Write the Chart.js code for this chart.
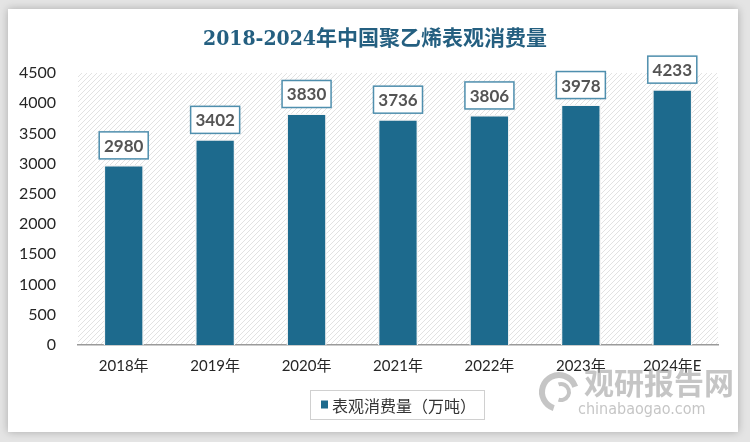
<!DOCTYPE html>
<html>
<head>
<meta charset="utf-8">
<script src="https://cdn.jsdelivr.net/npm/chart.js@4.4.1/dist/chart.umd.min.js"></script>
<style>
  html, body { margin: 0; padding: 0; background: #e4e4e4; }
  #wrap { position: relative; width: 750px; height: 442px; }
</style>
</head>
<body>
<div id="wrap"><canvas id="chart" width="750" height="442"></canvas></div>
<script>
// Chart data
const categories = ['2018年', '2019年', '2020年', '2021年', '2022年', '2023年', '2024年E'];
const consumption = [2980, 3402, 3830, 3736, 3806, 3978, 4233];
const yTicks = [0, 500, 1000, 1500, 2000, 2500, 3000, 3500, 4000, 4500];
const seriesName = '表观消费量（万吨）';
const titleText = '2018-2024年中国聚乙烯表观消费量';

const barColor = '#1d6a8d';
const cjk = "'Noto Sans CJK SC', sans-serif";

// Diagonal hatch pattern for the plot background
function makeHatch() {
    const c = document.createElement('canvas');
    c.width = 5; c.height = 5;
    const g = c.getContext('2d');
    g.fillStyle = '#ffffff';
    g.fillRect(0, 0, 5, 5);
    g.strokeStyle = '#e2e2e2';
    g.lineWidth = 1;
    g.beginPath();
    g.moveTo(0, 5); g.lineTo(5, 0);
    g.moveTo(-2.5, 2.5); g.lineTo(2.5, -2.5);
    g.moveTo(2.5, 7.5); g.lineTo(7.5, 2.5);
    g.stroke();
    return g.createPattern(c, 'repeat');
}

// Panel, hatched plot area, title
const backgroundPlugin = {
    id: 'background',
    beforeDraw(chart) {
        const ctx = chart.ctx;
        const a = chart.chartArea;
        ctx.save();
        ctx.fillStyle = '#e4e4e4';
        ctx.fillRect(0, 0, chart.width, chart.height);
        ctx.shadowColor = 'rgba(0,0,0,0.25)';
        ctx.shadowBlur = 8;
        ctx.fillStyle = '#ffffff';
        ctx.fillRect(8, 9, 730, 423);
        ctx.shadowColor = 'transparent';
        ctx.fillStyle = makeHatch();
        ctx.fillRect(a.left, a.top, a.right - a.left, a.bottom - a.top);
        // title
        ctx.fillStyle = '#245f80';
        ctx.font = "bold 21px 'DejaVu Serif Condensed', 'DejaVu Serif', 'Noto Sans CJK SC'";
        ctx.textAlign = 'center';
        ctx.textBaseline = 'middle';
        ctx.fillText(titleText, 375, 40);
        ctx.restore();
    }
};

// Value boxes above bars, legend box, watermark
const overlayPlugin = {
    id: 'overlay',
    afterDatasetsDraw(chart) {
        const ctx = chart.ctx;
        const meta = chart.getDatasetMeta(0);
        ctx.save();
        ctx.font = "bold 17px Lato, 'Open Sans', sans-serif";
        ctx.textAlign = 'center';
        ctx.textBaseline = 'middle';
        meta.data.forEach((bar, i) => {
            const w = 49, h = 27;
            const x = bar.x - w / 2;
            const y = bar.y - 6 - h;
            ctx.fillStyle = '#ffffff';
            ctx.shadowColor = 'rgba(0,0,0,0.15)';
            ctx.shadowBlur = 3;
            ctx.fillRect(x, y, w, h);
            ctx.shadowColor = 'transparent';
            ctx.strokeStyle = '#4f8fae';
            ctx.lineWidth = 1.5;
            ctx.strokeRect(x, y, w, h);
            ctx.fillStyle = '#545454';
            ctx.fillText(String(chart.data.datasets[0].data[i]), bar.x, y + h / 2 + 1);
        });
        ctx.restore();
    },
    afterDraw(chart) {
        const ctx = chart.ctx;
        const a = chart.chartArea;
        ctx.save();
        // watermark
        ctx.fillStyle = 'rgba(150,150,150,0.55)';
        ctx.font = "bold 30px " + cjk;
        ctx.textAlign = 'left';
        ctx.textBaseline = 'middle';
        ctx.fillText('观研报告网', 584, a.bottom + 38);
        ctx.font = "16px 'DejaVu Sans Condensed', 'DejaVu Sans', sans-serif";
        ctx.fillText('chinabaogao.com', 578, a.bottom + 65);
        ctx.strokeStyle = 'rgba(150,150,150,0.55)';
        ctx.lineWidth = 6;
        ctx.beginPath();
        ctx.arc(559, a.bottom + 47, 17, Math.PI * 0.6, Math.PI * 1.9);
        ctx.stroke();
        ctx.lineWidth = 4;
        ctx.beginPath();
        ctx.arc(561, a.bottom + 47, 8, Math.PI * 1.4, Math.PI * 2.6);
        ctx.stroke();
        // legend
        const label = chart.data.datasets[0].label;
        ctx.font = '16px ' + cjk;
        const tw = ctx.measureText(label).width;
        const bw = tw + 30, bh = 29;
        const bx = 310, by = a.bottom + 45;
        ctx.fillStyle = '#ffffff';
        ctx.fillRect(bx, by, bw, bh);
        ctx.strokeStyle = '#d0d0d0';
        ctx.lineWidth = 1;
        ctx.strokeRect(bx + 0.5, by + 0.5, bw, bh);
        ctx.fillStyle = barColor;
        ctx.fillRect(bx + 11, by + bh / 2 - 4, 7, 8);
        ctx.fillStyle = '#333333';
        ctx.textBaseline = 'middle';
        ctx.fillText(label, bx + 22, by + bh / 2 + 1);
        ctx.restore();
    }
};

new Chart(document.getElementById('chart'), {
    type: 'bar',
    data: {
        labels: categories,
        datasets: [{
            label: seriesName,
            data: consumption,
            backgroundColor: barColor,
            borderColor: '#f4f4f4',
            borderWidth: 1.5,
            categoryPercentage: 0.44,
            barPercentage: 1
        }]
    },
    options: {
        responsive: false,
        animation: false,
        layout: { padding: { left: 0, right: 32, top: 73, bottom: 63 } },
        plugins: {
            legend: { display: false },
            tooltip: { enabled: false },
            title: { display: false }
        },
        scales: {
            x: {
                grid: { display: false },
                border: { display: true, color: '#9a9a9a', width: 1.5 },
                ticks: {
                    color: '#262626',
                    padding: 4,
                    font: { family: "Lato, 'Noto Sans CJK SC', sans-serif", size: 15 }
                }
            },
            y: {
                min: 0,
                max: 4500,
                afterFit(scale) { scale.width = 78; },
                afterBuildTicks(scale) { scale.ticks = yTicks.map(v => ({ value: v })); },
                grid: { display: false, drawTicks: false },
                border: { display: false },
                ticks: {
                    color: '#262626',
                    padding: 22,
                    callback: v => String(v),
                    font: { family: "Lato, 'Open Sans', sans-serif", size: 16 }
                }
            }
        }
    },
    plugins: [backgroundPlugin, overlayPlugin]
});
</script>
</body>
</html>
